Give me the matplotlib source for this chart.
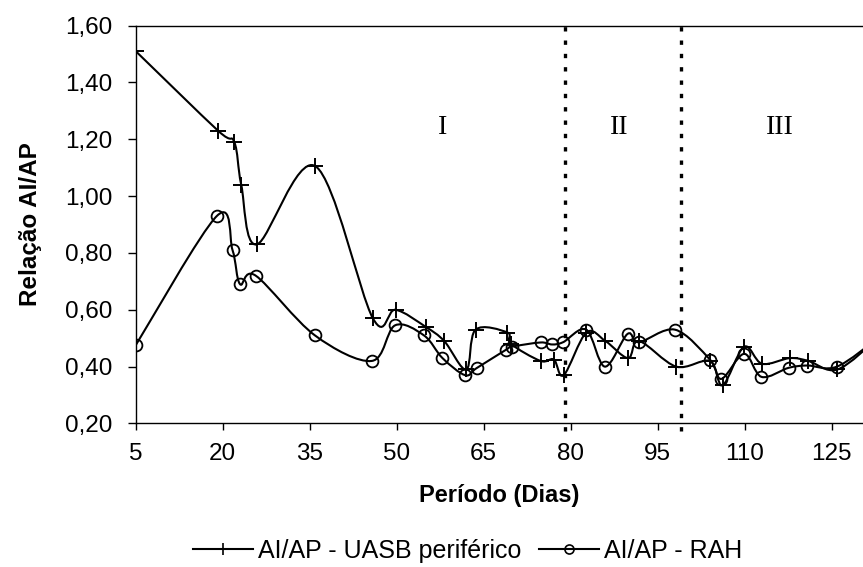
import numpy as np
import matplotlib
matplotlib.use("Agg")
import matplotlib.pyplot as plt
from matplotlib.path import Path
from matplotlib.patches import PathPatch
from matplotlib.lines import Line2D
from matplotlib.ticker import FixedLocator, FuncFormatter


# AI/AP - UASB periférico (cross markers)
uasb_dias = [5, 19.2, 22, 23.2, 25.9, 36, 45.9, 49.8, 55, 58.2, 62, 63.6, 69.1, 69.7,
             74.8, 77.1, 78.8, 82.7, 86.0, 89.9, 91.8, 98.2, 104.0, 106.2, 109.9,
             113, 117.8, 121, 126, 133]
uasb_rel = [1.51, 1.23, 1.19, 1.04, 0.83, 1.105, 0.57, 0.60, 0.54, 0.49, 0.39, 0.53,
            0.52, 0.48, 0.42, 0.425, 0.37, 0.52, 0.49, 0.43, 0.49, 0.40, 0.42, 0.335,
            0.47, 0.41, 0.43, 0.42, 0.39, 0.50]

# AI/AP - RAH (circle markers)
rah_dias = [5, 19, 21.7, 23, 25.7, 35.9, 45.7, 49.7, 54.7, 57.9, 61.8, 63.8, 68.9, 69.8,
            74.8, 76.8, 78.7, 82.7, 85.9, 89.8, 91.8, 98.0, 104.0, 106, 109.9, 112.9,
            117.6, 120.8, 125.9, 133]
rah_rel = [0.475, 0.93, 0.81, 0.69, 0.72, 0.51, 0.42, 0.545, 0.51, 0.43, 0.37, 0.395,
           0.46, 0.47, 0.485, 0.478, 0.486, 0.53, 0.40, 0.515, 0.486, 0.53, 0.425,
           0.357, 0.445, 0.364, 0.396, 0.404, 0.40, 0.50]

# phase boundaries and labels
fase_limites = [79.1, 99.1]
fase_nomes = ["I", "II", "III"]
fase_x = [57.9, 88.3, 116.1]
fase_y = 1.24

x_ticks = [5, 20, 35, 50, 65, 80, 95, 110, 125]
y_ticks = [0.2, 0.4, 0.6, 0.8, 1.0, 1.2, 1.4, 1.6]


def smooth_path(x, y):
    # Catmull-Rom style bezier segments, like Excel's smoothed line
    pts = np.column_stack([x, y]).astype(float)
    n = len(pts)
    verts = [pts[0]]
    codes = [Path.MOVETO]
    for i in range(n - 1):
        p0 = pts[i - 1] if i > 0 else pts[i]
        p1 = pts[i]
        p2 = pts[i + 1]
        p3 = pts[i + 2] if i + 2 < n else pts[i + 1]
        verts += [p1 + (p2 - p0) / 6, p2 - (p3 - p1) / 6, p2]
        codes += [Path.CURVE4] * 3
    return Path(verts, codes)


def main():
    plt.rcParams["font.family"] = ["Liberation Sans", "DejaVu Sans"]

    fig = plt.figure(figsize=(8.63, 5.67), dpi=100)
    ax = fig.add_axes([0.1572, 0.2531, 0.8428, 0.7019])

    for xs, ys in [(uasb_dias, uasb_rel), (rah_dias, rah_rel)]:
        ax.add_patch(PathPatch(smooth_path(xs, ys), fill=False, lw=1.5,
                               edgecolor="black", transform=ax.transData))

    ax.plot(uasb_dias, uasb_rel, linestyle="none", marker="+", markersize=11,
            markeredgewidth=1.4, color="black")
    ax.plot(rah_dias, rah_rel, linestyle="none", marker="o", markersize=8.5,
            markeredgewidth=1.3, markerfacecolor="none", color="black")

    for xv in fase_limites:
        ax.plot([xv, xv], [0.172, 1.6], color="black", lw=2.4,
                linestyle=(0, (1.3, 2.7)), clip_on=False)

    for nome, xv in zip(fase_nomes, fase_x):
        ax.text(xv, fase_y, nome, family="Liberation Serif", fontsize=20,
                ha="center", va="center")

    ax.set_xlim(5, 130.4)
    ax.set_ylim(0.2, 1.6)
    ax.xaxis.set_major_locator(FixedLocator(x_ticks))
    ax.yaxis.set_major_locator(FixedLocator(y_ticks))
    ax.yaxis.set_major_formatter(FuncFormatter(lambda v, p: f"{v:.2f}".replace(".", ",")))

    ax.spines["right"].set_visible(False)
    for s in ["left", "bottom", "top"]:
        ax.spines[s].set_linewidth(1.0)
    ax.tick_params(axis="y", direction="out", length=6, width=1, pad=11, labelsize=17.5)
    ax.tick_params(axis="x", direction="out", length=5, width=1, pad=9, labelsize=17.5)

    ax.set_xlabel("Período (Dias)", fontsize=17, fontweight="bold", labelpad=14)
    ax.set_ylabel("Relação AI/AP", fontsize=17.5, fontweight="bold", labelpad=16)

    handles = [
        Line2D([], [], color="black", lw=1.5, marker="+", markersize=9, markeredgewidth=1.2),
        Line2D([], [], color="black", lw=1.5, marker="o", markersize=6.5,
               markerfacecolor="none", markeredgewidth=1.2),
    ]
    fig.legend(handles, ["AI/AP - UASB periférico", "AI/AP - RAH"], loc="center",
               bbox_to_anchor=(0.542, 0.028), ncol=2, frameon=False, fontsize=18,
               handlelength=2.4, handletextpad=0.2, columnspacing=0.7)

    fig.savefig("out.png", dpi=100)


if __name__ == "__main__":
    main()
